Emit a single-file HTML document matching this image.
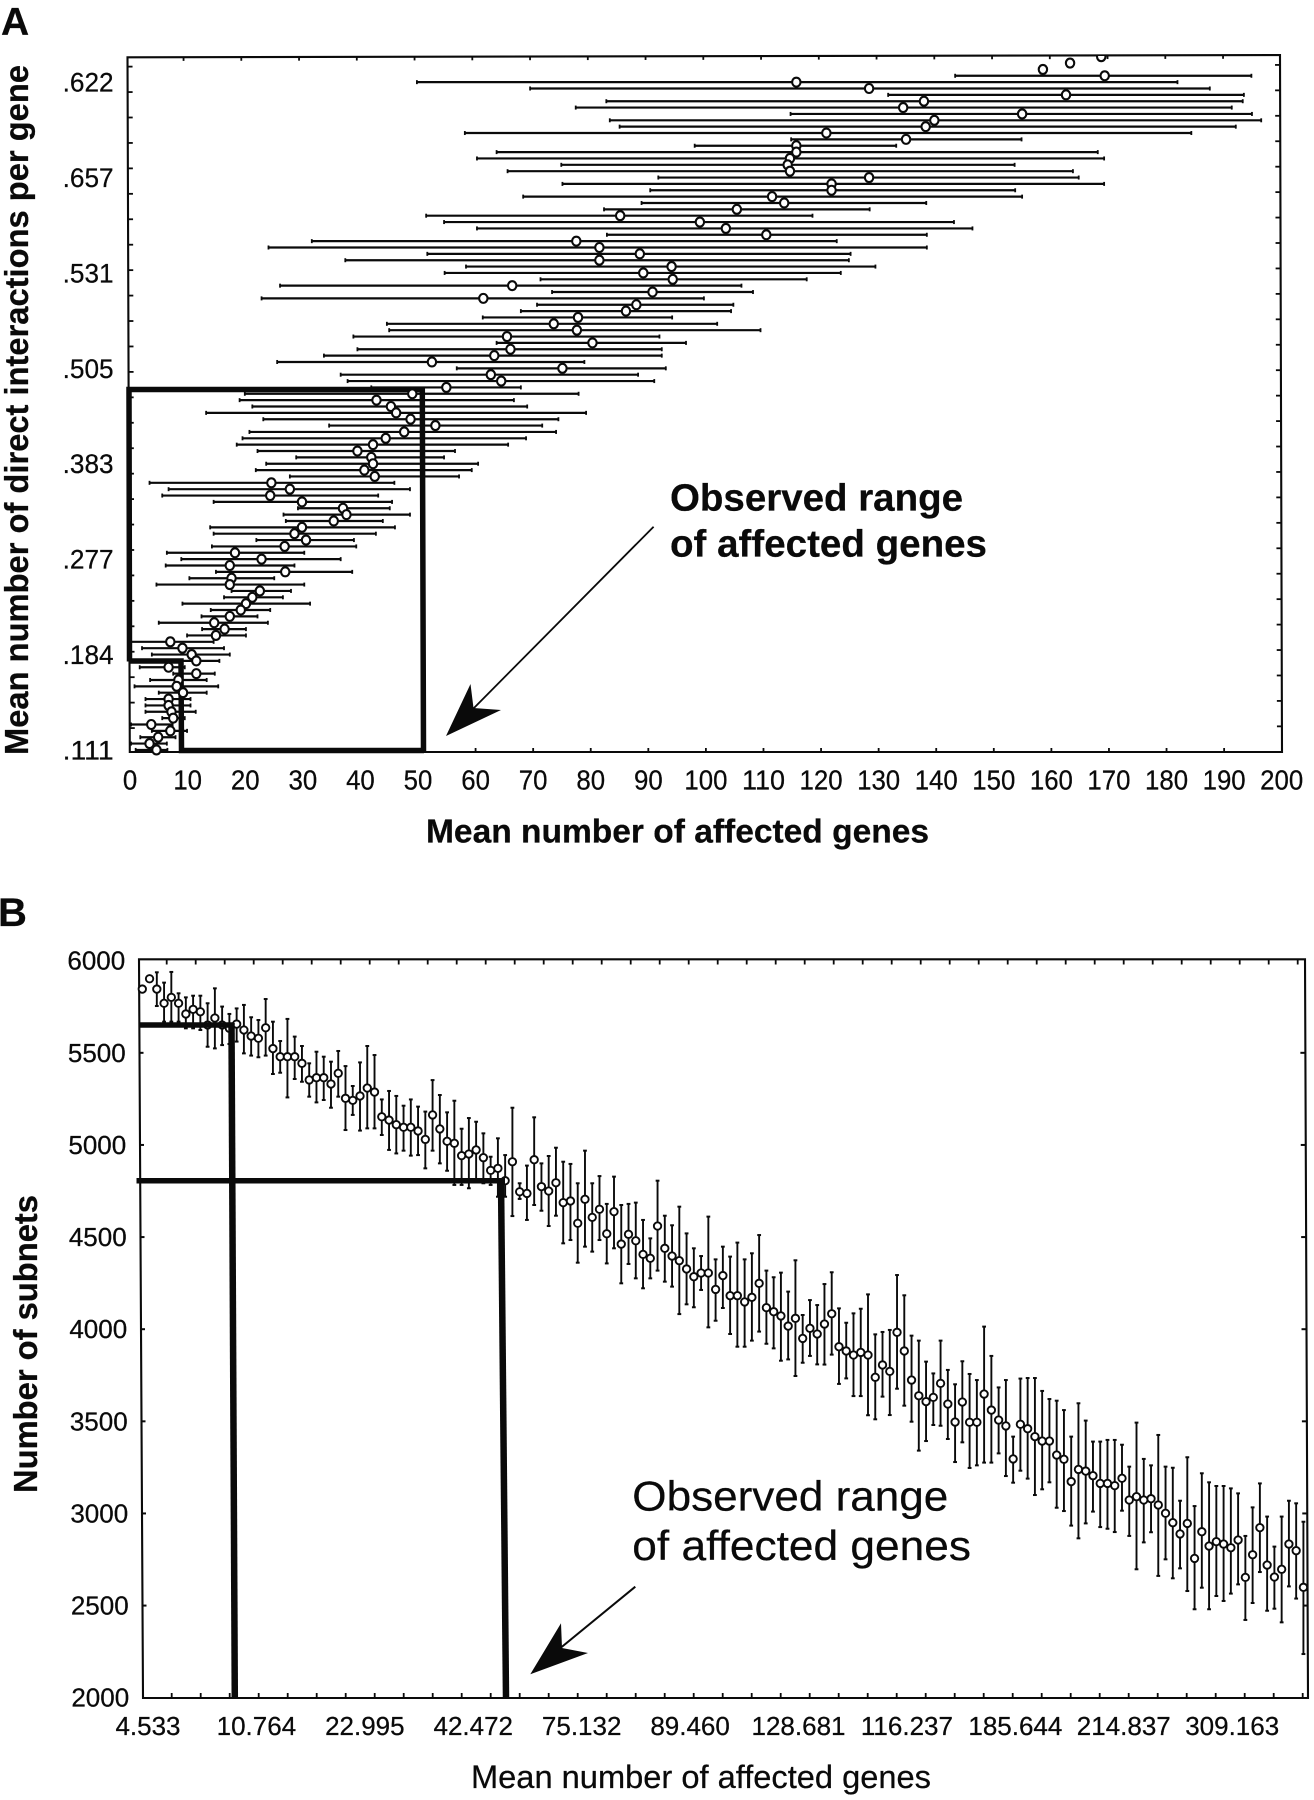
<!DOCTYPE html>
<html lang="en">
<head>
<meta charset="utf-8">
<title>Affected genes charts</title>
<style>
html,body{margin:0;padding:0;background:#fff;}
svg{display:block;}
text{font-family:"Liberation Sans",sans-serif;fill:#0a0a0a;stroke:#0a0a0a;stroke-width:0.25px;}
</style>
</head>
<body>
<svg id="figure" xmlns="http://www.w3.org/2000/svg" width="1314" height="1800" viewBox="0 0 1314 1800">
<rect width="1314" height="1800" fill="#fff"/>
<defs><clipPath id="plotClipA"><rect x="120" y="56" width="1170" height="700"/></clipPath></defs>
<text x="1" y="35" font-size="39" font-weight="bold">A</text>
<text x="-2" y="926" font-size="40" font-weight="bold">B</text>
<polygon points="127.5,57.3 1280,55 1282,752 129.8,752" fill="none" stroke="#0a0a0a" stroke-width="2.1"/>
<polygon points="139,959.3 1305,959.3 1308,1698 143,1698" fill="none" stroke="#0a0a0a" stroke-width="2.1"/>
<g id="panelA"></g>
<g id="panelB"></g>
<text transform="translate(27.8 755) rotate(-90)" font-size="33" font-weight="bold" textLength="690" lengthAdjust="spacingAndGlyphs">Mean number of direct interactions per gene</text>
<text x="426" y="842.5" font-size="33" font-weight="bold" textLength="503" lengthAdjust="spacingAndGlyphs">Mean number of affected genes</text>
<text x="670" y="510.7" font-size="38" font-weight="bold" textLength="293" lengthAdjust="spacingAndGlyphs">Observed range</text>
<text x="670" y="556.7" font-size="38" font-weight="bold" textLength="317" lengthAdjust="spacingAndGlyphs">of affected genes</text>
<line x1="653.6" y1="526.7" x2="470" y2="712" stroke="#0a0a0a" stroke-width="1.8"/>
<polygon points="446,736 470.5,684 473.5,708 501,710" fill="#0a0a0a"/>
<text transform="translate(37 1493) rotate(-90)" font-size="33" font-weight="bold" textLength="298" lengthAdjust="spacingAndGlyphs">Number of subnets</text>
<text x="471" y="1788" font-size="32.5" textLength="460" lengthAdjust="spacingAndGlyphs">Mean number of affected genes</text>
<text x="632.3" y="1510.7" font-size="42" textLength="316" lengthAdjust="spacingAndGlyphs">Observed range</text>
<text x="632.3" y="1560" font-size="42" textLength="338.7" lengthAdjust="spacingAndGlyphs">of affected genes</text>
<line x1="635.3" y1="1586.7" x2="558" y2="1650" stroke="#0a0a0a" stroke-width="2"/>
<polygon points="530.3,1674.3 561,1623.3 562,1648 588,1653" fill="#0a0a0a"/>
</svg>
<script>
/* ---------- Panel A data (rows top to bottom) ---------- */
const meansA = [168.7,163.3,158.6,169.3,115.9,128.5,162.6,138,134.4,155,139.8,138.3,121.1,134.9,115.9,115.9,114.8,114.4,114.8,128.5,122,122,111.7,113.8,105.6,85.4,99.2,103.7,110.7,77.8,81.8,88.8,81.8,94.3,89.4,94.5,66.7,91,61.7,88.2,86.4,78.1,73.9,77.9,65.8,80.6,66.4,63.6,52.8,75.4,63,64.8,55.3,49.4,43.2,45.7,46.6,49.1,53.4,48,44.8,42.6,39.9,42.3,42.6,41.1,42.9,25,28.2,24.8,30.3,37.4,38,35.8,30.3,29,31,27.3,18.7,23.3,17.8,27.4,18.1,17.8,23,21.7,20.6,19.7,17.8,15.1,16.9,15.4,7.5,9.6,11.2,12,7.2,12,8.9,8.6,9.7,7.2,7.2,7.7,8,4.2,7.5,5.4,3.9,5.1];
const lowsA = [168.7,163.3,158.6,143.4,50.2,69.8,131.8,83,77.7,114.9,83.6,85.3,58.5,115,98.3,64,60.6,75.2,65.9,92,75.4,90.6,68.6,89.1,82.6,51.8,54.9,60.6,83.1,32,24.5,52,37.8,58.7,55,71.6,26.5,73.6,23.3,71,68.2,61.6,45,45.4,39.2,64,39.9,34.1,26,57.1,37,38.2,42.3,20.4,19.5,21.7,13.7,23.6,35,21.2,20,19,22.6,29.3,24.1,22.3,28.2,3.9,7.2,6.1,15,29.6,27.1,27.5,14.4,15,22.4,14.7,6.9,9.4,6.7,15.4,10.8,5.1,18.1,16.8,9.6,14.5,12.9,5.5,13,10.4,0.5,2.6,4.3,7.9,2.2,8,4,1.3,5.5,3.2,3.2,3.2,6.1,0.7,4.3,2.3,0.7,1.5];
const highsA = [168.7,163.3,158.6,194.7,181.9,187.5,193.4,193.2,191.3,194.8,196.4,192,184.3,154.9,133.2,168.1,169.2,153.7,163.8,164.8,169.2,153.8,155,138.4,128.6,118.7,143.2,146.4,138.5,122.9,138.5,125.3,125,129.6,123.6,117.7,106.4,108.4,99.9,105,104.6,94.4,102.2,109.7,92.2,96.8,92.6,92.6,79.2,93.3,88.5,91.3,68.2,78.2,67,69.3,79.5,74.7,71.9,74.3,69.1,66,56.8,54.9,60.8,59.7,57.5,46.3,49,43.5,45.9,45.5,49,44.3,46.4,43.1,39.3,39.7,30.7,37,29,39,25.5,30.7,28.4,27,31.7,24.8,22.6,24.4,20.6,20.6,15,16.8,17.8,16,10,15.2,13.8,15.8,13.8,11,11,11.9,10,7.9,10.4,8.4,6.9,7];
const xTicksA = [0,10,20,30,40,50,60,70,80,90,100,110,120,130,140,150,160,170,180,190,200];
const yLabelsA = [".622",".657",".531",".505",".383",".277",".184",".111"];

/* ---------- Panel B data (left to right) ---------- */
const meansB = [5846,5902,5846,5769,5801,5769,5711,5736,5723,5651,5689,5651,5633,5656,5624,5591,5579,5636,5523,5479,5479,5479,5443,5353,5365,5365,5331,5389,5253,5242,5266,5309,5287,5153,5135,5110,5096,5096,5076,5030,5163,5087,5020,5009,4942,4951,4973,4931,4862,4873,4806,4909,4746,4737,4920,4774,4750,4795,4687,4696,4575,4705,4607,4651,4518,4638,4462,4515,4480,4406,4385,4560,4439,4397,4372,4327,4285,4305,4305,4216,4291,4182,4182,4148,4173,4249,4117,4095,4072,4017,4059,3950,4005,3974,4028,4084,3905,3882,3860,3874,3860,3739,3806,3771,3983,3882,3724,3639,3607,3630,3706,3594,3496,3605,3495,3495,3648,3561,3507,3475,3296,3484,3460,3417,3393,3393,3317,3294,3173,3239,3230,3205,3163,3163,3151,3191,3073,3091,3073,3080,3046,3001,2950,2889,2946,2756,2901,2823,2847,2834,2814,2856,2653,2776,2923,2720,2655,2697,2834,2798,2599];
const highsB = [5846,5902,5937,5881,5939,5823,5801,5810,5810,5769,5850,5751,5711,5741,5760,5693,5678,5792,5669,5564,5684,5588,5537,5443,5506,5479,5452,5510,5428,5320,5448,5537,5488,5247,5293,5266,5213,5247,5208,5181,5352,5271,5177,5240,5088,5146,5126,5063,4936,5036,4945,5202,4792,4888,5150,4900,4940,4985,4909,4897,4792,4969,4792,4831,4680,4828,4674,4680,4687,4593,4493,4806,4616,4564,4665,4520,4439,4397,4611,4379,4448,4394,4470,4379,4412,4511,4318,4282,4307,4204,4374,4077,4158,4131,4245,4309,4113,4035,4086,4111,4189,3972,3985,3996,4294,4184,3965,3938,3824,3760,3938,3779,3701,3826,3757,3724,4014,3855,3684,3724,3417,3732,3735,3735,3665,3621,3612,3561,3417,3598,3504,3390,3390,3399,3399,3373,3254,3493,3296,3261,3426,3254,3248,3069,3305,3040,3218,3169,3149,3149,3136,3109,2878,3033,3163,2983,2820,2983,3069,3055,2955];
const lowsB = [5846,5902,5754,5669,5669,5669,5633,5633,5624,5533,5524,5542,5548,5561,5497,5485,5476,5485,5385,5392,5258,5358,5343,5262,5231,5244,5202,5262,5081,5163,5078,5090,5090,5054,4973,4954,4969,4942,4945,4873,4969,4900,4860,4783,4783,4765,4810,4792,4783,4719,4719,4614,4707,4593,4674,4643,4560,4616,4466,4484,4361,4448,4421,4484,4357,4439,4249,4354,4276,4222,4276,4318,4258,4231,4082,4135,4119,4213,4010,4046,4115,3974,3905,3905,3938,3987,3921,3896,3829,3836,3746,3818,3855,3809,3808,3862,3703,3733,3637,3637,3533,3511,3634,3534,3677,3585,3498,3341,3393,3480,3476,3404,3279,3386,3247,3261,3276,3276,3326,3203,3167,3232,3189,3100,3131,3169,3031,3013,2934,2865,2946,3010,2926,2917,2899,3015,2878,2697,2843,2898,2661,2751,2648,2702,2579,2480,2597,2480,2552,2525,2565,2615,2422,2514,2682,2472,2483,2409,2604,2538,2237];
const yTicksB = [6000,5500,5000,4500,4000,3500,3000,2500,2000];
const xLabelsB = ["4.533","10.764","22.995","42.472","75.132","89.460","128.681","116.237","185.644","214.837","309.163"];

/* ---------- Axis functions ---------- */
function xA(v){ return 127 + 5.775 * v; }
function yA(row){ return 56.7 + 6.36 * row; }
function xAxisA(v){ return 130.1 + 5.758 * v; }
function xB(i){ return 142.3 + 7.257 * i; }
function yB(v){ return 960.7 + (6000 - v) * 0.18425; }

const NS = "http://www.w3.org/2000/svg";
const INK = "#0a0a0a";
function mk(parent, tag, attrs, txt){
  const e = document.createElementNS(NS, tag);
  for (const k in attrs) e.setAttribute(k, attrs[k]);
  if (txt !== undefined) e.textContent = txt;
  parent.appendChild(e);
  return e;
}
function ln(parent, x1, y1, x2, y2, w){
  return mk(parent, "line", {x1:x1, y1:y1, x2:x2, y2:y2, stroke:INK, "stroke-width":w});
}

/* ---------- Panel A ---------- */
const gA = document.getElementById("panelA");

/* top ticks, bottom ticks, tick labels */
xTicksA.forEach(function(v){
  if (v > 0 && v < 200) {
    const top = ln(gA, 125.8 + 5.775 * v, 57 - 0.002 * (5.775 * v), 125.8 + 5.775 * v, 61 - 0.002 * (5.775 * v), 1.8);
    
    
    const bot = ln(gA, xAxisA(v), 752, xAxisA(v), 748, 1.8);
    
    
  }
  const s = String(v);
  const t = mk(gA, "text", {x:xAxisA(v), y:789.3, "font-size":27.5, "text-anchor":"middle", textLength:s.length * 14.35, lengthAdjust:"spacingAndGlyphs"}, s);
  
  
});

/* left and right ticks: one every four rows */
for (let r = 1.56; r < 109; r += 4) {
  const y = yA(r);
  const fx = 127.5 + 0.0034 * (y - 57);
  const l = ln(gA, fx, y, fx + 5, y, 1.8);
  
  
  const rx = 1280 + 0.0029 * (y - 57);
  const rt = ln(gA, rx, y - 1.7, rx - 5, y - 1.7, 1.8);
  
  
}

/* y labels: every 15th row starting at row 4 */
yLabelsA.forEach(function(lab, k){
  const t = mk(gA, "text", {x:113.6, y:yA(4 + 15 * k) + 9.5, "font-size":27, "text-anchor":"end", textLength:51, lengthAdjust:"spacingAndGlyphs"}, lab);
  
  
});

/* whiskers */
meansA.forEach(function(m, i){
  const y = yA(i);
  if (highsA[i] > lowsA[i]) {
    const w = ln(gA, xA(lowsA[i]), y, xA(highsA[i]), y, 2.2);
    
    
    const c1 = ln(gA, xA(lowsA[i]), y - 2, xA(lowsA[i]), y + 2, 1.8);
    
    
    const c2 = ln(gA, xA(highsA[i]), y - 2, xA(highsA[i]), y + 2, 1.8);
    
    
  }
});

/* observed range boxes */
const boxA = mk(gA, "path", {d:"M129.5 661.5 L129 389.5 L422.3 389.5 L423.5 751", fill:"none", stroke:INK, "stroke-width":5.5});


const boxA2 = mk(gA, "path", {d:"M129.5 661 L181 661 L181.5 750.5 L424 750.5", fill:"none", stroke:INK, "stroke-width":5.5});



/* markers */
const dotsA = mk(gA, "g", {"clip-path":"url(#plotClipA)"});


meansA.forEach(function(m, i){
  const c = mk(dotsA, "ellipse", {cx:xA(m), cy:yA(i), rx:4.2, ry:4.5, fill:"#fff", stroke:INK, "stroke-width":2.1});
  
  
});

/* ---------- Panel B ---------- */
const gB = document.getElementById("panelB");

for (let k = 1; k <= 40; k++) {
  const tx = 137.7 + 29 * k;
  const t1 = ln(gB, tx, 959.5, tx, 964.5, 1.8);
  
  
  const t2 = ln(gB, tx + 5, 1698, tx + 5, 1693, 1.8);
  
  
}

yTicksB.forEach(function(v){
  const y = yB(v);
  const lx = 139 + 0.0054 * (y - 959);
  const rx = 1305 + 0.0041 * (y - 959);
  if (v !== 6000 && v !== 2000) {
    const a = ln(gB, lx, y, lx + 4, y, 2);
    
    
    const b = ln(gB, rx, y, rx - 5, y, 2);
    
    
  }
  const t = mk(gB, "text", {x:lx - 13.8, y:y + 9, "font-size":26, "text-anchor":"end"}, String(v));
  
  
});

xLabelsB.forEach(function(lab, k){
  const t = mk(gB, "text", {x:xB(14.94 * k) + 5.7, y:1735, "font-size":26, "text-anchor":"middle"}, lab);
  
  
});

meansB.forEach(function(m, i){
  const x = xB(i);
  if (highsB[i] > lowsB[i]) {
    const w = ln(gB, x, yB(highsB[i]), x, yB(lowsB[i]), 1.9);
    
    
    const c1 = ln(gB, x - 1.9, yB(highsB[i]), x + 1.9, yB(highsB[i]), 2);
    
    
    const c2 = ln(gB, x - 1.9, yB(lowsB[i]), x + 1.9, yB(lowsB[i]), 2);
    
    
  }
});
meansB.forEach(function(m, i){
  const c = mk(gB, "circle", {cx:xB(i), cy:yB(m), r:3.7, fill:"#fff", stroke:INK, "stroke-width":1.9});
  
  
});

/* observed range guides */
const guide1 = mk(gB, "path", {d:"M139 1025 L233 1025", fill:"none", stroke:INK, "stroke-width":5.5});


const guide2 = mk(gB, "path", {d:"M231.5 1023 L234.8 1698", fill:"none", stroke:INK, "stroke-width":6.5});


const guide3 = mk(gB, "path", {d:"M136.5 1180.7 L505 1180.7", fill:"none", stroke:INK, "stroke-width":5.5});


const guide4 = mk(gB, "path", {d:"M501 1178.5 L506 1698", fill:"none", stroke:INK, "stroke-width":6.5});


</script>
</body>
</html>
